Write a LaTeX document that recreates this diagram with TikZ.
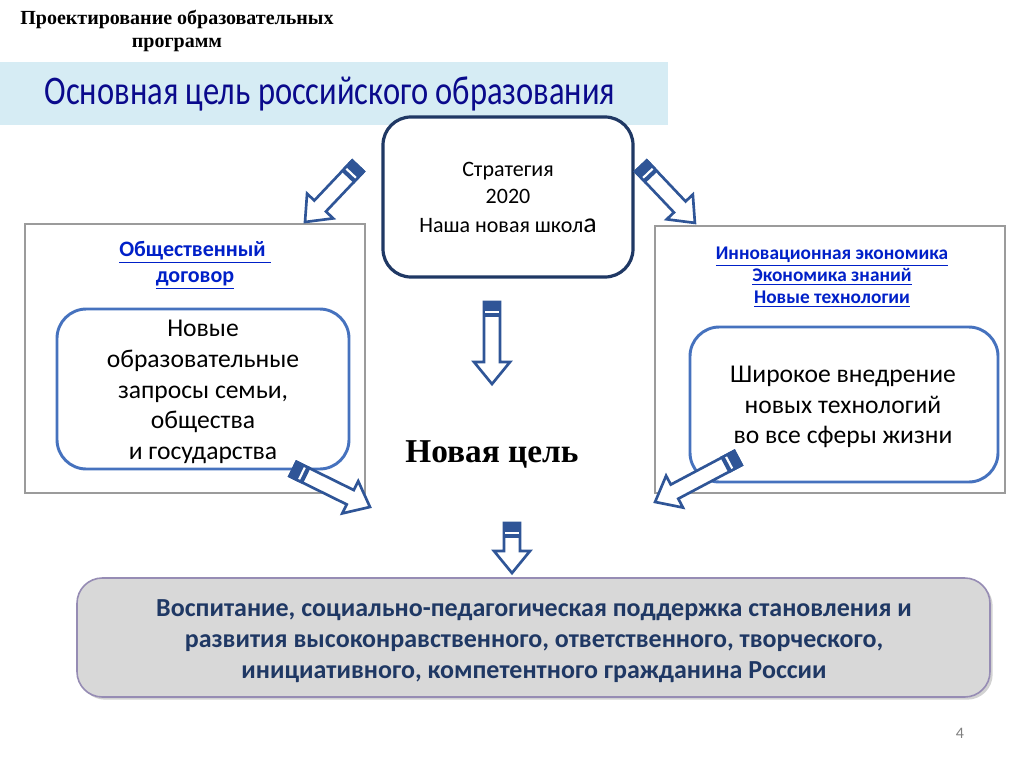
\documentclass[tikz,border=0pt]{standalone}
\usepackage{fontspec}
\usepackage{graphicx}
\setmainfont{Carlito}
\newfontfamily\serifbold{Liberation Serif}
\usetikzlibrary{positioning,calc,shadows}
\definecolor{bandblue}{RGB}{214,236,244}
\definecolor{titlenavy}{RGB}{10,10,140}
\definecolor{stratnavy}{RGB}{31,56,100}
\definecolor{framegray}{RGB}{155,155,155}
\definecolor{innerblue}{RGB}{70,114,190}
\definecolor{linkblue}{RGB}{0,32,200}
\definecolor{pencilblue}{RGB}{47,85,151}
\definecolor{goalgray}{RGB}{216,216,216}
\definecolor{goalborder}{RGB}{150,140,180}
\definecolor{goaltext}{RGB}{31,56,100}

% block arrow drawn like a pencil, from tail (#1) to tip (#2)
\newcommand{\pencil}[2]{%
  \draw[pencilbody] let \p1=($(#2)-(#1)$), \n1={atan2(\y1,\x1)}, \n2={veclen(\x1,\y1)} in
    [shift={(#1)}, rotate=\n1]
    (0pt,-6pt) -- ({\n2*1pt-16.5pt},-6pt) -- ({\n2*1pt-16.5pt},-13.5pt)
    -- ({\n2*1pt},0pt) -- ({\n2*1pt-16.5pt},13.5pt) -- ({\n2*1pt-16.5pt},6pt)
    -- (0pt,6pt) -- cycle;
  \filldraw[pencilcap] let \p1=($(#2)-(#1)$), \n1={atan2(\y1,\x1)} in
    [shift={(#1)}, rotate=\n1]
    (0pt,-6pt) -- (10.5pt,-6pt) -- (10.5pt,6pt) -- (0pt,6pt) -- cycle;
  \draw[white, line width=1.6pt] let \p1=($(#2)-(#1)$), \n1={atan2(\y1,\x1)} in
    [shift={(#1)}, rotate=\n1]
    (7.5pt,-4.9pt) -- (7.5pt,4.9pt);
}

\begin{document}
\begin{tikzpicture}[
    x=0.75pt, y=-0.75pt,
    frame/.style={rectangle, draw=framegray, line width=0.8pt},
    inner/.style={rectangle, draw=innerblue, line width=2.2pt, rounded corners=22pt, fill=white},
    body/.style={align=center, font=\fontsize{19.2}{23}\selectfont},
    link/.style 2 args={align=center, text=linkblue, font=\bfseries\fontsize{#1}{#2}\selectfont},
    pencilbody/.style={draw=pencilblue, line width=2pt, fill=white, line join=miter},
    pencilcap/.style={draw=pencilblue, fill=pencilblue, line width=2pt}
]
    \useasboundingbox[fill=white] (0,0) rectangle (1024,767);

    % Header
    \node[align=center, font=\serifbold\bfseries\fontsize{15}{17.5}\selectfont] (hdr) at (177,31)
        {Проектирование образовательных\\программ};
    \node[rectangle, fill=bandblue, anchor=north west, inner sep=0pt,
        minimum width=501pt, minimum height=47.25pt] (band) at (0,62) {};
    \node[text=titlenavy, font=\fontsize{30.5}{34}\selectfont] (bandtitle) at (330,94)
        {\scalebox{0.8}[1]{Основная цель российского образования}};

    % Strategy
    \node[rectangle, draw=stratnavy, line width=2.4pt, rounded corners=21pt, fill=white,
        minimum width=187.5pt, minimum height=120pt, align=center,
        font=\fontsize{16.5}{20.5}\selectfont] (strat) at (508,197)
        {Стратегия\\2020\\[1pt]Наша новая школ{\fontsize{21}{20.5}\selectfont а}};

    % Left block
    \node[frame, minimum width=255pt, minimum height=201.75pt] (lframe) at (195,358.5) {};
    \node[link={16.5}{19.5}] (ltitle) at (195,265) {\underline{Общественный }\\\underline{договор}};
    \node[inner, minimum width=219pt, minimum height=120pt] (lbox) at (203,389) {};
    \node[body] (ltext) at (203,392)
        {Новые\\образовательные\\запросы семьи,\\общества\\и государства};

    % Right block
    \node[frame, minimum width=262.5pt, minimum height=200.25pt] (rframe) at (830,359.5) {};
    \node[link={14.5}{16.5}] (rtitle) at (832,277)
        {\underline{Инновационная экономика}\\\underline{Экономика знаний}\\\underline{Новые технологии}};
    \node[inner, minimum width=231pt, minimum height=116.25pt] (rbox) at (844,404.5) {};
    \node[body] (rtext) at (843,407)
        {Широкое внедрение\\новых технологий\\во все сферы жизни};

    % New goal
    \node[font=\serifbold\bfseries\fontsize{25}{28}\selectfont] (newgoal) at (492,454) {Новая цель};

    % Mission
    \node[rectangle, draw=goalborder, line width=1.2pt, rounded corners=19pt, fill=goalgray,
        drop shadow={shadow xshift=2pt, shadow yshift=-2pt, opacity=0.35},
        minimum width=684.75pt, minimum height=89.25pt] (mission) at (533.5,637.5) {};
    \node[align=center, text=goaltext, font=\bfseries\fontsize{19.5}{23}\selectfont] (missiontext)
        at (534,641)
        {Воспитание, социально-педагогическая поддержка становления и\\
         развития высоконравственного, ответственного, творческого,\\
         инициативного, компетентного гражданина России};

    \node[text=gray, font=\fontsize{12}{14}\selectfont] (pagenum) at (960,733) {4};

    % Pencil arrows
    \coordinate (atail) at (358,166); \coordinate (atip) at (305,222);
    \coordinate (btail) at (641,166); \coordinate (btip) at (695,223);
    \coordinate (ctail) at (492,302); \coordinate (ctip) at (492,384);
    \coordinate (dtail) at (293,469); \coordinate (dtip) at (370,507);
    \coordinate (etail) at (738,458); \coordinate (etip) at (655,502);
    \coordinate (ftail) at (512,523); \coordinate (ftip) at (512,573);
    \pencil{atail}{atip}
    \pencil{btail}{btip}
    \pencil{ctail}{ctip}
    \pencil{dtail}{dtip}
    \pencil{etail}{etip}
    \pencil{ftail}{ftip}
\end{tikzpicture}
\end{document}
